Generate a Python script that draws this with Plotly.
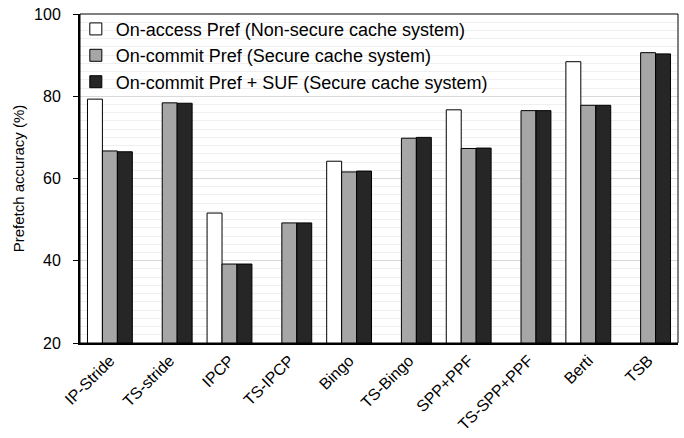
import plotly.graph_objects as go

categories = ["IP-Stride", "TS-stride", "IPCP", "TS-IPCP", "Bingo", "TS-Bingo",
              "SPP+PPF", "TS-SPP+PPF", "Berti", "TSB"]
on_access = [79.3, None, 51.6, None, 64.2, None, 76.7, None, 88.4, None]
on_commit = [66.7, 78.4, 39.2, 49.2, 61.6, 69.8, 67.3, 76.5, 77.8, 90.6]
on_commit_suf = [66.5, 78.3, 39.2, 49.2, 61.8, 70.0, 67.4, 76.5, 77.8, 90.3]
series_names = ["On-access Pref (Non-secure cache system)",
                "On-commit Pref (Secure cache system)",
                "On-commit Pref + SUF (Secure cache system)"]
colors = ["#ffffff", "#a6a6a6", "#262626"]

fig = go.Figure()
for name, vals, col in zip(series_names, [on_access, on_commit, on_commit_suf], colors):
    fig.add_trace(go.Bar(x=categories, y=vals, name=name,
                         marker=dict(color=col, line=dict(color="#000000", width=1))))

fig.update_layout(
    width=684, height=438,
    margin=dict(l=80, r=6, t=14, b=95, autoexpand=False),
    paper_bgcolor="white", plot_bgcolor="white",
    barmode="group", bargap=0.25, bargroupgap=0,
    font=dict(family="Arial, Liberation Sans, sans-serif", color="#000000", size=16),
    legend=dict(x=-0.007, y=1.01, xanchor="left", yanchor="top",
                bgcolor="rgba(0,0,0,0)", font=dict(size=18), tracegroupgap=0,
                itemwidth=30),
    showlegend=True,
)
fig.update_yaxes(range=[20, 100], tickvals=[20, 40, 60, 80, 100],
                 showgrid=True, gridcolor="#d9d9d9", gridwidth=1,
                 minor=dict(dtick=2, showgrid=True, gridcolor="#efefef", gridwidth=1),
                 showline=True, linecolor="#000000", linewidth=2,
                 ticks="outside", ticklen=5, tickcolor="#000000",
                 tickfont=dict(size=16), zeroline=False, automargin=False,
                 ticklabelstandoff=9,
                 title=dict(text="Prefetch accuracy (%)", font=dict(size=15), standoff=6))
fig.update_xaxes(showline=True, linecolor="#000000", linewidth=2, automargin=False,
                 tickangle=-45, tickfont=dict(size=16), ticks="")
fig.add_shape(type="rect", xref="paper", yref="paper", x0=0, y0=0, x1=1, y1=1,
              line=dict(color="#000000", width=1), fillcolor="rgba(0,0,0,0)", layer="above")

fig.write_html("out.html", config={"displayModeBar": False},
               post_script="document.body.style.margin='0';document.body.style.padding='0';")
